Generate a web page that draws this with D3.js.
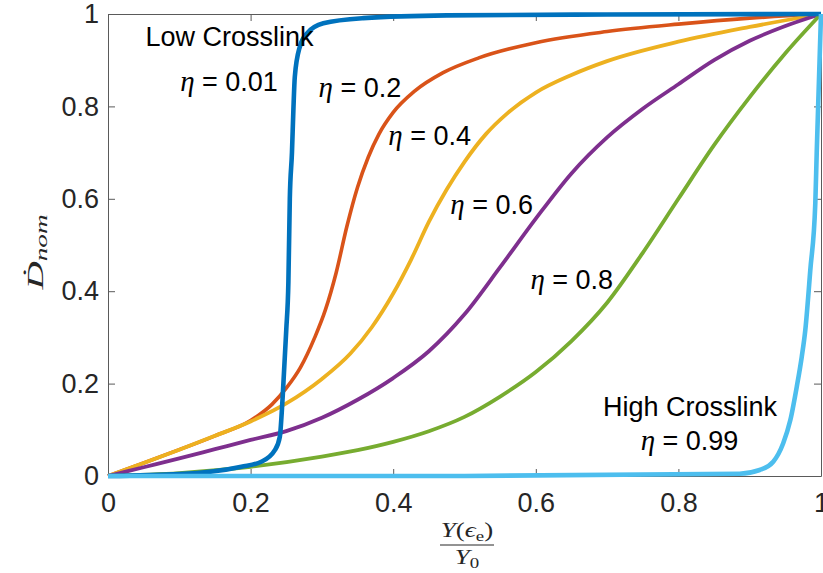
<!DOCTYPE html>
<html><head><meta charset="utf-8">
<script src="https://cdn.jsdelivr.net/npm/d3@7"></script>
<style>body{margin:0;background:#fff;overflow:hidden}</style>
</head><body>
<svg id="c" width="823" height="573"></svg>
<script>
// ---- data ----
const xTicks = [0, 0.2, 0.4, 0.6, 0.8, 1];
const yTicks = [0, 0.2, 0.4, 0.6, 0.8, 1];
const tickLabels = ["0", "0.2", "0.4", "0.6", "0.8", "1"];
const etas = ["0.01", "0.2", "0.4", "0.6", "0.8", "0.99"];
const colors = ["#0072BD", "#D95319", "#EDB120", "#7E2F8E", "#77AC30", "#4DBEEE"];

const x_001 = [0, 0.1, 0.187, 0.215, 0.234, 0.241, 0.245, 0.25, 0.253, 0.255, 0.258, 0.26, 0.262, 0.269, 0.279, 0.302, 0.358, 0.475, 0.7, 1];
const y_001 = [0, 0.004, 0.02, 0.031, 0.056, 0.085, 0.172, 0.316, 0.42, 0.6, 0.7, 0.792, 0.864, 0.929, 0.958, 0.98, 0.991, 0.997, 0.999, 1];

const x_02 = [0, 0.05, 0.1, 0.15, 0.2, 0.23, 0.25, 0.27, 0.29, 0.305, 0.32, 0.335, 0.35, 0.365, 0.38, 0.4, 0.43, 0.47, 0.52, 0.6, 0.7, 0.8, 0.9, 1];
const y_02 = [0, 0.028, 0.057, 0.087, 0.12, 0.155, 0.19, 0.235, 0.3, 0.36, 0.44, 0.54, 0.625, 0.69, 0.74, 0.787, 0.833, 0.873, 0.905, 0.938, 0.962, 0.978, 0.991, 1];

const x_04 = [0, 0.05, 0.1, 0.15, 0.2, 0.25, 0.3, 0.34, 0.37, 0.4, 0.425, 0.45, 0.475, 0.5, 0.53, 0.56, 0.6, 0.65, 0.7, 0.8, 0.9, 1];
const y_04 = [0, 0.028, 0.057, 0.087, 0.118, 0.157, 0.21, 0.265, 0.322, 0.395, 0.468, 0.55, 0.62, 0.68, 0.74, 0.785, 0.83, 0.868, 0.898, 0.94, 0.972, 1];

const x_06 = [0, 0.05, 0.1, 0.15, 0.2, 0.25, 0.3, 0.35, 0.4, 0.45, 0.5, 0.55, 0.6, 0.65, 0.7, 0.75, 0.8, 0.85, 0.9, 0.95, 1];
const y_06 = [0, 0.019, 0.038, 0.058, 0.078, 0.097, 0.126, 0.165, 0.212, 0.27, 0.35, 0.452, 0.557, 0.655, 0.733, 0.795, 0.848, 0.9, 0.942, 0.974, 1];

const x_08 = [0, 0.1, 0.2, 0.3, 0.35, 0.4, 0.45, 0.5, 0.55, 0.6, 0.65, 0.7, 0.75, 0.8, 0.85, 0.9, 0.95, 1];
const y_08 = [0, 0.006, 0.02, 0.042, 0.056, 0.074, 0.097, 0.128, 0.172, 0.225, 0.292, 0.375, 0.483, 0.6, 0.716, 0.82, 0.915, 1];

const x_099 = [0, 0.5, 0.886, 0.914, 0.933, 0.947, 0.957, 0.966, 0.973, 0.978, 0.985, 0.992, 0.994, 0.997, 1];
const y_099 = [0, 0, 0.005, 0.013, 0.031, 0.071, 0.121, 0.193, 0.258, 0.316, 0.446, 0.59, 0.7, 0.85, 1];

const annText = ["Low Crosslink", "η|0.01", "η|0.2", "η|0.4", "η|0.6", "η|0.8", "High Crosslink", "η|0.99"];
const annX = [0.1704, 0.1697, 0.3534, 0.4512, 0.5381, 0.6504, 0.8163, 0.8156];
const annY = [0.9307, 0.8333, 0.8203, 0.7165, 0.5671, 0.4048, 0.1299, 0.0563];

// ---- chart ----
const svg = d3.select("#c");
const x = d3.scaleLinear().domain([0, 1]).range([108, 821]);
const y = d3.scaleLinear().domain([0, 1]).range([476, 14]);

const axisColor = "#5a5a5a";
const textColor = "#262626";
const sans = "Liberation Sans, Arial, Helvetica, sans-serif";
const serif = "Liberation Serif, Times New Roman, DejaVu Serif, serif";

function styleAxis(g, showText) {
  g.selectAll("path.domain").attr("stroke", axisColor).attr("stroke-width", 1);
  g.selectAll(".tick line").attr("stroke", axisColor).attr("stroke-width", 1);
  g.selectAll(".tick text").attr("fill", textColor).attr("font-family", null)
    .style("font-family", sans).style("font-size", "27px");
  if (!showText) g.selectAll(".tick text").remove();
}

const fmtX = (d) => tickLabels[xTicks.indexOf(d)];
const fmtY = (d) => tickLabels[yTicks.indexOf(d)];

svg.append("g").attr("transform", "translate(0,476)")
  .call(d3.axisBottom(x).tickValues(xTicks).tickFormat(fmtX).tickSizeInner(-7).tickSizeOuter(0).tickPadding(17))
  .call(g => styleAxis(g, true));
svg.append("g").attr("transform", "translate(0,14)")
  .call(d3.axisTop(x).tickValues(xTicks).tickSizeInner(-7).tickSizeOuter(0))
  .call(g => styleAxis(g, false));
svg.append("g").attr("transform", "translate(108,0)")
  .call(d3.axisLeft(y).tickValues(yTicks).tickFormat(fmtY).tickSizeInner(-7).tickSizeOuter(0).tickPadding(9))
  .call(g => styleAxis(g, true));
svg.append("g").attr("transform", "translate(821,0)")
  .call(d3.axisRight(y).tickValues(yTicks).tickSizeInner(-7).tickSizeOuter(0))
  .call(g => styleAxis(g, false));

// ---- series ----
const series = [
  {xs: x_02, ys: y_02, c: colors[1], w: 3.6},
  {xs: x_04, ys: y_04, c: colors[2], w: 3.8},
  {xs: x_06, ys: y_06, c: colors[3], w: 3.8},
  {xs: x_08, ys: y_08, c: colors[4], w: 3.8},
  {xs: x_001, ys: y_001, c: colors[0], w: 4.6},
  {xs: x_099, ys: y_099, c: colors[5], w: 4.6}
];
const line = d3.line().x(d => x(d[0])).y(d => y(d[1])).curve(d3.curveMonotoneX);
series.forEach(s => {
  svg.append("path")
    .datum(s.xs.map((v, i) => [v, s.ys[i]]))
    .attr("d", line)
    .attr("fill", "none")
    .attr("stroke", s.c)
    .attr("stroke-width", s.w)
    .attr("stroke-linejoin", "round");
});

// ---- annotations ----
annText.forEach((t, i) => {
  const tx = svg.append("text")
    .attr("x", x(annX[i])).attr("y", y(annY[i]))
    .attr("text-anchor", "middle")
    .attr("fill", "#000")
    .style("font-family", sans).style("font-size", "27px");
  if (t.indexOf("|") >= 0) {
    const [sym, val] = t.split("|");
    tx.append("tspan").text(sym).style("font-family", serif).style("font-style", "italic").style("font-size", "29px");
    tx.append("tspan").text(" = " + val);
  } else {
    tx.text(t);
  }
});

// ---- y label ----
const yl = svg.append("g").attr("transform", "translate(43,252) rotate(-90) scale(1.7,1)");
const ylt = yl.append("text").attr("text-anchor", "middle").attr("fill", textColor)
  .style("font-family", serif).style("font-style", "italic").style("font-size", "23px");
ylt.append("tspan").text("Ḋ");
ylt.append("tspan").text("nom").attr("dy", 4).style("font-size", "16px");

// ---- x label (fraction) ----
const xl = svg.append("g").attr("transform", "translate(467,0)");
const num = xl.append("text").attr("x", 0).attr("y", 537).attr("text-anchor", "middle").attr("fill", textColor)
  .attr("transform", "scale(1.35,1)").attr("transform-origin", "0 537")
  .style("font-family", serif).style("font-size", "20px");
num.append("tspan").text("Y").style("font-style", "italic");
num.append("tspan").text("(");
num.append("tspan").text("ϵ").style("font-style", "italic");
num.append("tspan").text("e").attr("dy", 4).style("font-size", "14px");
num.append("tspan").text(")").attr("dy", -4);
xl.append("line").attr("x1", -27).attr("x2", 27).attr("y1", 545).attr("y2", 545).attr("stroke", textColor).attr("stroke-width", 1);
const den = xl.append("text").attr("x", 0).attr("y", 564).attr("text-anchor", "middle").attr("fill", textColor)
  .attr("transform", "scale(1.35,1)").attr("transform-origin", "0 564")
  .style("font-family", serif).style("font-size", "20px");
den.append("tspan").text("Y").style("font-style", "italic");
den.append("tspan").text("0").attr("dy", 4).style("font-size", "14px");
</script>
</body></html>
